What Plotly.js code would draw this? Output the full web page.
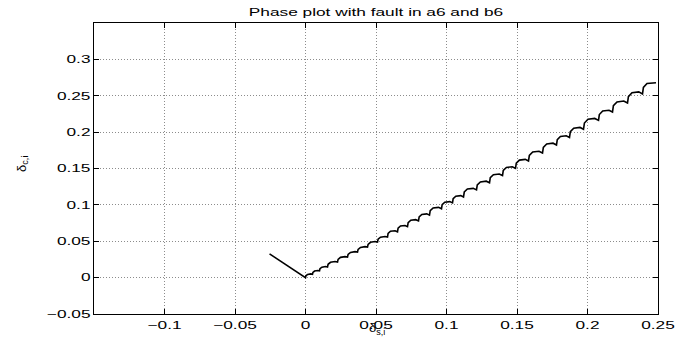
<!DOCTYPE html>
<html>
<head>
<meta charset="utf-8">
<script src="https://cdn.plot.ly/plotly-3.0.1.min.js"></script>
<style>
html,body{margin:0;padding:0;background:#fff;}
#chart{width:690px;height:350px;}
</style>
</head>
<body>
<div id="chart"></div>
<script>
// Phase trajectory: delta_s,i (x) vs delta_c,i (y)
const phaseX = [
-0.0255, 0,
0.0003, 0.0015, 0.00372,
0.00496, 0.00526, 0.00645, 0.00869,
0.00993, 0.01027, 0.01163, 0.01418,
0.0156, 0.01603, 0.01773, 0.02092,
0.0227, 0.02312, 0.02482, 0.02801,
0.02979, 0.03021, 0.03192, 0.03511,
0.03688, 0.03731, 0.03901, 0.0422,
0.04397, 0.0444, 0.0461, 0.04929,
0.05106, 0.05149, 0.05319, 0.05638,
0.05816, 0.05858, 0.06028, 0.06348,
0.06525, 0.06567, 0.06738, 0.07057,
0.07234, 0.07281, 0.07468, 0.07819,
0.08014, 0.08061, 0.08248, 0.08599,
0.08794, 0.08845, 0.0905, 0.09433,
0.09645, 0.09692, 0.09879, 0.10231,
0.10426, 0.10472, 0.1066, 0.11011,
0.11206, 0.11261, 0.11482, 0.11897,
0.12128, 0.12183, 0.12404, 0.12819,
0.1305, 0.13105, 0.13326, 0.13741,
0.13972, 0.14027, 0.14248, 0.14663,
0.14894, 0.14949, 0.1517, 0.15585,
0.15816, 0.15875, 0.16114, 0.1656,
0.16809, 0.16868, 0.17106, 0.17553,
0.17801, 0.17857, 0.18078, 0.18493,
0.18723, 0.18783, 0.19021, 0.19468,
0.19716, 0.1978, 0.20036, 0.20514,
0.2078, 0.2084, 0.21078, 0.21525,
0.21773, 0.21837, 0.22092, 0.22571,
0.22837, 0.22901, 0.23156, 0.23635,
0.23901, 0.23965, 0.2422, 0.24858
];
const phaseY = [
0.0326, 0,
0.00255, 0.0044, 0.00509,
0.00463, 0.00719, 0.00905, 0.00975,
0.00928, 0.01223, 0.01437, 0.01518,
0.01464, 0.01835, 0.02105, 0.02207,
0.02139, 0.02513, 0.02784, 0.02886,
0.02818, 0.03195, 0.03469, 0.03571,
0.03503, 0.03882, 0.04158, 0.04262,
0.04193, 0.04575, 0.04854, 0.04958,
0.04888, 0.05274, 0.05555, 0.0566,
0.0559, 0.06083, 0.06379, 0.0645,
0.06295, 0.06793, 0.07092, 0.07164,
0.07007, 0.07558, 0.07889, 0.07968,
0.07795, 0.08351, 0.08685, 0.08764,
0.0859, 0.09202, 0.09569, 0.09657,
0.09464, 0.1003, 0.1037, 0.10451,
0.10273, 0.10844, 0.11186, 0.11268,
0.11088, 0.11768, 0.12176, 0.12273,
0.12059, 0.12746, 0.13158, 0.13256,
0.1304, 0.13732, 0.14148, 0.14247,
0.14029, 0.14728, 0.15147, 0.15247,
0.15028, 0.15732, 0.16155, 0.16256,
0.16034, 0.16801, 0.17261, 0.1737,
0.1713, 0.17904, 0.18368, 0.18479,
0.18236, 0.18961, 0.19396, 0.19499,
0.19271, 0.20059, 0.20532, 0.20644,
0.20397, 0.21249, 0.21761, 0.21882,
0.21614, 0.22417, 0.22898, 0.23012,
0.2276, 0.23629, 0.2415, 0.24274,
0.24001, 0.24878, 0.25404, 0.25529,
0.25253, 0.2615, 0.26688, 0.26791
];

const xTickVals = [-0.1, -0.05, 0, 0.05, 0.1, 0.15, 0.2, 0.25];
const xTickText = ['\u22120.1', '\u22120.05', '0', '0.05', '0.1', '0.15', '0.2', '0.25'];
const yTickVals = [-0.05, 0, 0.05, 0.1, 0.15, 0.2, 0.25, 0.3];
const yTickText = ['\u22120.05', '0', '0.05', '0.1', '0.15', '0.2', '0.25', '0.3'];

const titleText = 'Phase plot with fault in a6 and b6';
const xTitleText = '\u03b4<sub>s,i</sub>';
const yTitleText = '\u03b4<sub>c,i</sub>';

const FONT = 'Liberation Sans, Arial, Helvetica, sans-serif';

const data = [{
  type: 'scatter',
  mode: 'lines',
  x: phaseX,
  y: phaseY,
  line: {color: '#000000', width: 1.6, simplify: false},
  hoverinfo: 'skip'
}];

const axisCommon = {
  showline: true, linecolor: '#000000', linewidth: 1.3,
  mirror: 'allticks', ticks: 'inside', ticklen: 5, tickwidth: 1, tickcolor: '#000000',
  showgrid: true, gridcolor: '#8c8c8c', gridwidth: 1, griddash: '1px,2px',
  zeroline: false, tickmode: 'array',
  tickfont: {family: FONT, size: 11, color: '#000000'},
  fixedrange: true
};

const layout = {
  width: 690, height: 350,
  margin: {l: 94, r: 32, t: 23, b: 36, pad: 0},
  paper_bgcolor: '#ffffff', plot_bgcolor: '#ffffff',
  showlegend: false,
  font: {family: FONT, size: 11, color: '#000000'},
  title: {
    text: titleText,
    font: {family: FONT, size: 11, color: '#000000'},
    x: 0.5, xref: 'paper', xanchor: 'center',
    y: 1 - 12 / 350, yref: 'container', yanchor: 'middle'
  },
  xaxis: Object.assign({}, axisCommon, {
    range: [-0.15, 0.25], tickvals: xTickVals, ticktext: xTickText
  }),
  yaxis: Object.assign({}, axisCommon, {
    range: [-0.05, 0.35], tickvals: yTickVals, ticktext: yTickText
  }),
  annotations: [
    {text: xTitleText, xref: 'paper', yref: 'paper', x: 0.502, y: -0.05,
     xanchor: 'center', yanchor: 'middle', showarrow: false,
     font: {family: FONT, size: 13, color: '#000000'}},
    {text: yTitleText, xref: 'paper', yref: 'paper', x: -0.128, y: 0.515,
     xanchor: 'center', yanchor: 'middle', showarrow: false, textangle: -90,
     font: {family: FONT, size: 13, color: '#000000'}}
  ]
};

const gd = document.getElementById('chart');
Plotly.newPlot(gd, data, layout, {displayModeBar: false, staticPlot: true}).then(function () {
  // widen glyphs horizontally like the reference's stretched lettering
  gd.querySelectorAll('.xtick text, .ytick text, .gtitle').forEach(function (t) {
    const w = t.getComputedTextLength();
    if (w > 0) {
      t.setAttribute('textLength', (w * 1.57).toFixed(1));
      t.setAttribute('lengthAdjust', 'spacingAndGlyphs');
    }
  });
});
</script>
</body>
</html>
